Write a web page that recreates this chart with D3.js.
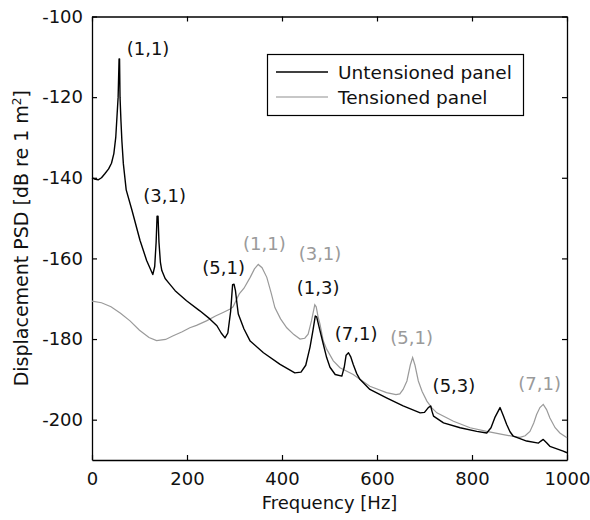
<!DOCTYPE html>
<html><head><meta charset="utf-8">
<script src="https://cdn.jsdelivr.net/npm/d3@7"></script>
<style>
html,body{margin:0;padding:0;background:#fff;}
text{font-family:"DejaVu Sans",sans-serif;}
</style></head>
<body><svg id="chart" width="590" height="520"></svg>
<script>
// ---- data ----
const untensionedFreq = [0,5,13,20,27,35,41,46,50,53,55,57,58,59,61,63,66,72,84,101,115,128,132,135,137,139,141,144,147,154,161,175,199,227,248,263,272,280,286,292,296,299,302,305,308,320,333,361,396,427,440,450,459,465,470,473,478,487,494,501,512,526,531,535,540,545,550,557,564,585,620,655,691,700,708,713,716,719,740,775,810,831,840,848,859,866,873,880,887,915,940,945,950,957,964,992,1000];
const untensionedPSD = [-140,-140.3,-140.5,-140,-139,-137.8,-136.4,-134,-130,-124,-120,-110.5,-110.5,-120,-126,-131,-136.5,-143,-148,-155.5,-160.5,-164,-162,-156,-149.5,-149.5,-156,-161,-163,-165,-166,-168,-170.5,-173,-175,-176.7,-178.5,-179.7,-178.5,-173,-166.5,-166.4,-168,-171,-173.8,-177.5,-180.5,-183.4,-186.3,-188.4,-188.2,-186.5,-182,-178,-174.3,-174.5,-177,-181.3,-184.6,-187,-188.8,-189.2,-187,-184,-183.4,-184.5,-186.3,-188.5,-190,-192.5,-194.6,-196.6,-198.3,-198.2,-197,-196.6,-198,-199.1,-200.8,-202,-202.9,-203.3,-202,-199.5,-197,-199,-201.2,-203,-204.1,-205.3,-205.8,-205.3,-204.9,-205.7,-206.6,-207.8,-208.2];

const tensionedFreq = [0,20,40,60,80,100,120,136,155,171,190,206,220,241,260,276,290,297,303,310,320,333,342,350,358,368,377,385,397,410,425,438,448,455,462,469,472,476,480,487,494,508,522,550,564,585,620,640,648,655,663,670,675,680,687,695,705,715,726,761,796,831,866,890,901,912,922,930,936,943,950,957,964,975,985,1000];
const tensionedPSD = [-170.6,-171,-172,-173.6,-175.5,-177.8,-179.6,-180.4,-180.1,-179.2,-178.2,-177.2,-176.6,-175.5,-174.3,-173.4,-172.6,-172,-170.5,-168.8,-167.4,-164.7,-162.6,-161.5,-162.3,-164.7,-168.5,-172.2,-175,-177.2,-178.9,-180,-179.8,-178.8,-175.5,-171.5,-172,-174.5,-176.3,-180.5,-182.5,-185.4,-187.1,-188.8,-190,-191.7,-193.3,-193.8,-193.6,-192.5,-190.4,-186.5,-184.6,-186.5,-190.4,-193,-195.4,-197,-198.3,-200.4,-202,-202.9,-203.7,-204.2,-204.4,-204,-202.9,-200.8,-198.7,-197,-196.2,-197.5,-199.6,-202,-203.3,-204.5];

const untensionedModeLabels = ["(1,1)","(3,1)","(5,1)","(1,3)","(7,1)","(5,3)"];
const untensionedModeFreq   = [118,153,277,476,556,762];
const untensionedModePSD    = [-108.1,-144.7,-162.6,-167.4,-179,-191.7];

const tensionedModeLabels = ["(1,1)","(3,1)","(5,1)","(7,1)"];
const tensionedModeFreq   = [363,480,673,942.5];
const tensionedModePSD    = [-156.5,-159.1,-180,-191.2];

const xTicks = [0,200,400,600,800,1000];
const yTicks = [-100,-120,-140,-160,-180,-200];
const seriesNames = ["Untensioned panel","Tensioned panel"];

// ---- layout ----
const svg = d3.select("#chart");
const L = 92, R = 567, T = 16.5, B = 460;
const FS = 18;
const BLACK = "#000", GRAY = "#9a9a9a", TXT = "#111";

const x = d3.scaleLinear().domain([0,1000]).range([L,R]);
const y = d3.scaleLinear().domain([-210,-100]).range([B,T]);

const fmt = d => String(d);
const gBottom = svg.append("g").attr("transform",`translate(0,${B})`)
  .call(d3.axisBottom(x).tickValues(xTicks).tickSizeInner(-5).tickSizeOuter(0).tickPadding(12).tickFormat(fmt));
const gLeft = svg.append("g").attr("transform",`translate(${L},0)`)
  .call(d3.axisLeft(y).tickValues(yTicks).tickSizeInner(-5).tickSizeOuter(0).tickPadding(9).tickFormat(fmt));
const gTop = svg.append("g").attr("transform",`translate(0,${T})`)
  .call(d3.axisTop(x).tickValues(xTicks).tickSizeInner(-5).tickSizeOuter(0).tickFormat(""));
const gRight = svg.append("g").attr("transform",`translate(${R},0)`)
  .call(d3.axisRight(y).tickValues(yTicks).tickSizeInner(-5).tickSizeOuter(0).tickFormat(""));
[gBottom,gLeft,gTop,gRight].forEach(g=>{
  g.selectAll("path.domain").attr("stroke","#000").attr("stroke-width",1.3);
  g.selectAll("line").attr("stroke","#000").attr("stroke-width",1.2);
  g.selectAll("text").attr("font-size",FS).attr("fill",TXT).attr("font-family","DejaVu Sans, sans-serif");
});

// curves
const line = d3.line().x(d=>x(d[0])).y(d=>y(d[1]));
const tensioned = tensionedFreq.map((f,i)=>[f,tensionedPSD[i]]);
const untensioned = untensionedFreq.map((f,i)=>[f,untensionedPSD[i]]);
svg.append("path").datum(tensioned).attr("d",line).attr("fill","none").attr("stroke",GRAY).attr("stroke-width",1.2);
svg.append("path").datum(untensioned).attr("d",line).attr("fill","none").attr("stroke",BLACK).attr("stroke-width",1.4).attr("stroke-linejoin","round");

// mode labels
function labels(names,fs,ps,color){
  svg.append("g").selectAll("text").data(names).join("text")
    .attr("x",(d,i)=>x(fs[i])).attr("y",(d,i)=>y(ps[i]))
    .attr("dy","0.3em").attr("text-anchor","middle")
    .attr("font-size",FS).attr("fill",color).text(d=>d);
}
labels(untensionedModeLabels,untensionedModeFreq,untensionedModePSD,TXT);
labels(tensionedModeLabels,tensionedModeFreq,tensionedModePSD,GRAY);

// legend
const lg = svg.append("g");
lg.append("rect").attr("x",267.5).attr("y",54.5).attr("width",256).attr("height",61)
  .attr("fill","#fff").attr("stroke","#000").attr("stroke-width",1.2);
const legendColors = [BLACK, "#b5b5b5"];
seriesNames.forEach((name,i)=>{
  const yy = 72 + i*25;
  lg.append("line").attr("x1",276).attr("x2",328).attr("y1",yy).attr("y2",yy)
    .attr("stroke",legendColors[i]).attr("stroke-width",1.3);
  lg.append("text").attr("x",338).attr("y",yy+6.6).attr("font-size",18.5).attr("fill",TXT).text(name);
});

// axis titles
svg.append("text").attr("x",(L+R)/2).attr("y",509).attr("text-anchor","middle")
  .attr("font-size",FS).attr("fill",TXT).text("Frequency [Hz]");
const yl = svg.append("text").attr("transform",`translate(27.5,${(T+B)/2}) rotate(-90)`)
  .attr("text-anchor","middle").attr("font-size",19).attr("fill",TXT);
yl.append("tspan").text("Displacement PSD [dB re 1 m");
yl.append("tspan").attr("font-size",12).attr("dy",-7).text("2");
yl.append("tspan").attr("dy",7).text("]");
</script></body></html>
